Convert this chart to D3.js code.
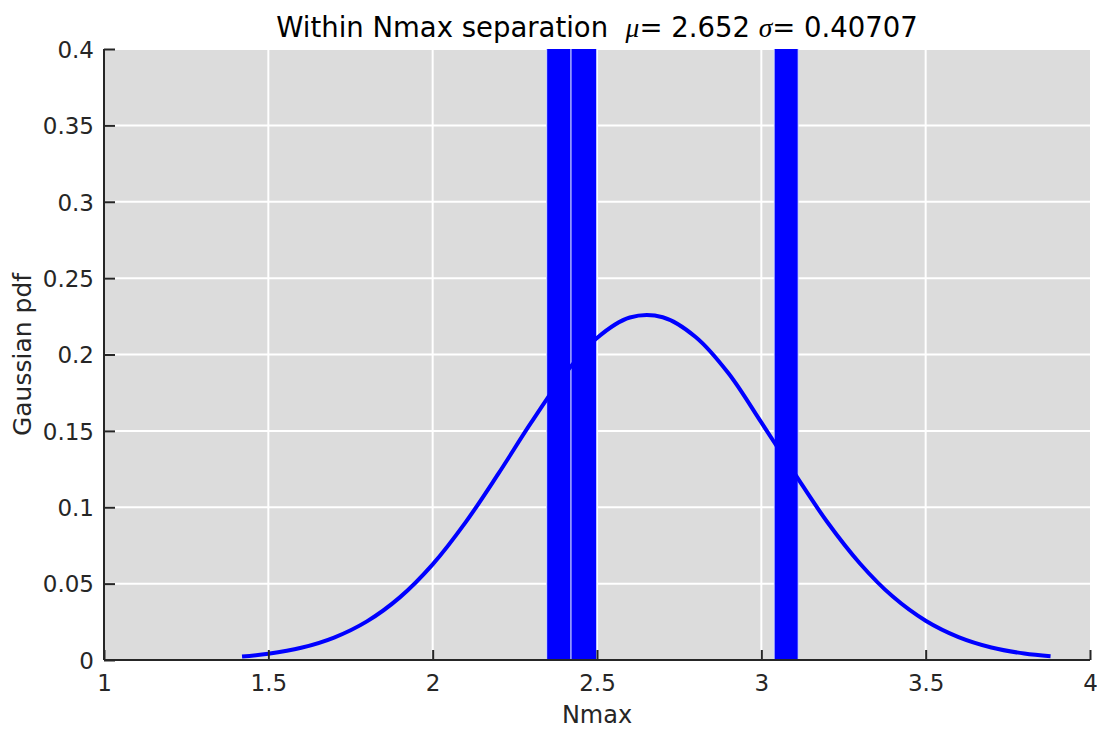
<!DOCTYPE html>
<html>
<head>
<meta charset="utf-8">
<script src="https://cdn.jsdelivr.net/npm/d3@7"></script>
<style>
  html, body { margin: 0; padding: 0; background: #fff; }
  svg { display: block; }
</style>
</head>
<body>
<svg id="chart" width="1097" height="729"></svg>
<script>
// ---- data ----
const curveX = [1.42, 1.5, 1.6, 1.7, 1.8, 1.9, 2.0, 2.1, 2.2, 2.3, 2.4, 2.5, 2.6, 2.7, 2.8, 2.9, 3.0, 3.1, 3.2, 3.3, 3.4, 3.5, 3.6, 3.7, 3.8, 3.88];
const curveY = [0.0023, 0.0041, 0.0080, 0.0147, 0.0253, 0.0410, 0.0626, 0.0901, 0.1220, 0.1555, 0.1866, 0.2108, 0.2242, 0.2244, 0.2115, 0.1877, 0.1555, 0.1225, 0.0905, 0.0632, 0.0415, 0.0257, 0.0150, 0.0082, 0.0042, 0.0024];
// histogram bins (heights run past the top of the axis and are clipped there)
const binStart = [2.347, 2.421, 3.039];
const binEnd   = [2.421, 2.499, 3.112];
const binValue = [1.0, 1.0, 0.6];
const xTicks = [1, 1.5, 2, 2.5, 3, 3.5, 4];
const xTickLabels = ["1", "1.5", "2", "2.5", "3", "3.5", "4"];
const yTicks = [0, 0.05, 0.1, 0.15, 0.2, 0.25, 0.3, 0.35, 0.4];
const yTickLabels = ["0", "0.05", "0.1", "0.15", "0.2", "0.25", "0.3", "0.35", "0.4"];
const titleMain = "Within Nmax separation ";
const muValue = "2.652";
const sigmaValue = "0.40707";
const xLabel = "Nmax";
const yLabel = "Gaussian pdf";

// ---- layout ----
const svg = d3.select("#chart");
const L = 104, R = 1090, T = 49, B = 660;
const x = d3.scaleLinear().domain([1, 4]).range([L, R]);
const y = d3.scaleLinear().domain([0, 0.4]).range([B, T]);
const textColor = "#262626";
const font = "'DejaVu Sans', Verdana, sans-serif";

// background
svg.append("rect").attr("x", L).attr("y", T).attr("width", R - L).attr("height", B - T).attr("fill", "#dcdcdc");

// grid
const grid = svg.append("g").attr("stroke", "#ffffff").attr("stroke-width", 2);
grid.selectAll(".gx").data(xTicks.slice(1, -1)).join("line")
  .attr("x1", d => x(d)).attr("x2", d => x(d)).attr("y1", T).attr("y2", B);
grid.selectAll(".gy").data(yTicks.slice(1)).join("line")
  .attr("x1", L).attr("x2", R).attr("y1", d => y(d)).attr("y2", d => y(d));

// clip
svg.append("clipPath").attr("id", "plotclip").append("rect")
  .attr("x", L).attr("y", T).attr("width", R - L).attr("height", B - T);

const plot = svg.append("g").attr("clip-path", "url(#plotclip)");

// bars
const bins = binStart.map((s, i) => ({ s, e: binEnd[i], v: binValue[i] }));
plot.selectAll(".bar").data(bins).join("rect")
  .attr("x", d => x(d.s)).attr("width", d => x(d.e) - x(d.s))
  .attr("y", d => y(d.v)).attr("height", d => y(0) - y(d.v))
  .attr("fill", "#0000ff").attr("stroke", "#d8e2ff").attr("stroke-width", 0.9);

// curve
const pts = curveX.map((v, i) => [v, curveY[i]]);
plot.append("path").datum(pts)
  .attr("d", d3.line().x(d => x(d[0])).y(d => y(d[1])).curve(d3.curveCatmullRom))
  .attr("fill", "none").attr("stroke", "#0000ff").attr("stroke-width", 4)
  .attr("stroke-linejoin", "round");

// axes (ticks inward)
const xAxis = d3.axisBottom(x).tickValues(xTicks).tickFormat((d, i) => xTickLabels[i]).tickSize(-10).tickPadding(20);
const yAxis = d3.axisLeft(y).tickValues(yTicks).tickFormat((d, i) => yTickLabels[i]).tickSize(-11).tickPadding(10);

const gx = svg.append("g").attr("transform", `translate(0,${B})`).call(xAxis);
const gy = svg.append("g").attr("transform", `translate(${L},0)`).call(yAxis);
[gx, gy].forEach(g => {
  g.select(".domain").attr("stroke", textColor).attr("stroke-width", 2);
  g.selectAll(".tick line").attr("stroke", textColor).attr("stroke-width", 2);
  g.selectAll(".tick text").attr("fill", textColor).attr("font-family", font).attr("font-size", 23);
});
gx.select(".domain").attr("d", `M${L},0H${R}`);
gy.select(".domain").attr("d", `M0,${B}V${T}`);
gx.selectAll(".tick text").attr("dy", "0.71em").attr("y", 15);
gy.selectAll(".tick text").attr("dy", "0.36em");

// title
const title = svg.append("text").attr("x", (L + R) / 2).attr("y", 37)
  .attr("text-anchor", "middle").attr("font-family", font).attr("font-size", 27.5)
  .attr("fill", "#000").attr("xml:space", "preserve");
title.append("tspan").text(titleMain + " ");
title.append("tspan").attr("font-family", "'Liberation Serif', 'DejaVu Serif', serif").attr("font-style", "italic").text("μ");
title.append("tspan").text("= " + muValue + " ");
title.append("tspan").attr("font-family", "'Liberation Serif', 'DejaVu Serif', serif").attr("font-style", "italic").text("σ");
title.append("tspan").text("= " + sigmaValue);

// axis labels
svg.append("text").attr("x", (L + R) / 2).attr("y", 723).attr("text-anchor", "middle")
  .attr("font-family", font).attr("font-size", 24).attr("fill", textColor).text(xLabel);
svg.append("text").attr("transform", `translate(31,${(T + B) / 2}) rotate(-90)`).attr("text-anchor", "middle")
  .attr("font-family", font).attr("font-size", 25).attr("fill", textColor).text(yLabel);
</script>
</body>
</html>
